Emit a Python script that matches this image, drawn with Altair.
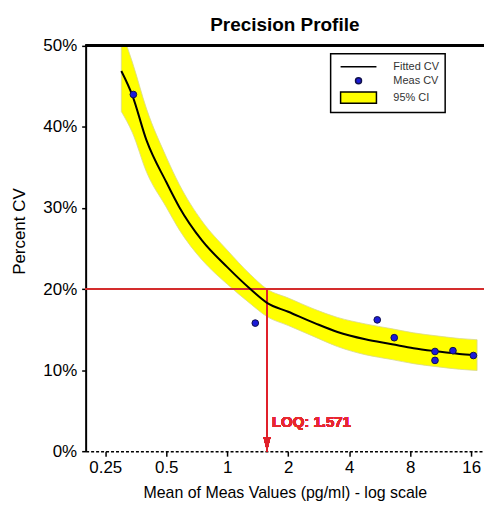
import altair as alt
import pandas as pd

# ---- data ----
fit_x = [0.30, 0.34, 0.40, 0.50, 0.58, 0.75, 1.00, 1.30, 1.571, 2.00, 2.70, 3.50, 4.80, 6.50, 8.30, 11.0, 14.0, 16.5]
fit_cv = [46.9, 43.9, 38.3, 33.2, 30.1, 26.0, 22.7, 20.0, 18.3, 17.2, 15.8, 14.7, 13.8, 13.2, 12.7, 12.3, 12.0, 11.85]

ci_x = [0.30, 0.34, 0.40, 0.50, 0.58, 0.75, 1.00, 1.30, 1.571, 2.00, 2.70, 3.50, 4.80, 6.50, 8.30, 11.0, 14.0, 17.1]
ci_lo = [41.9, 39.3, 34.4, 30.1, 27.3, 23.6, 20.6, 18.2, 16.6, 15.5, 14.1, 12.9, 11.9, 11.3, 10.8, 10.4, 10.1, 9.95]
ci_hi = [51.9, 48.0, 42.2, 36.3, 32.9, 28.4, 24.8, 21.8, 20.0, 18.9, 17.5, 16.5, 15.7, 15.1, 14.6, 14.2, 13.9, 13.75]

meas_x = [0.344, 1.375, 5.5, 6.67, 10.6, 10.6, 13.0, 16.4]
meas_cv = [44.0, 15.8, 16.2, 14.0, 12.3, 11.2, 12.4, 11.8]

x_ticks = [0.25, 0.5, 1, 2, 4, 8, 16]
y_ticks = [0, 10, 20, 30, 40, 50]
loq = 1.571
cv_limit = 20
legend_keys = ["Fitted CV", "Meas CV", "95% CI"]

fit_df = pd.DataFrame({"x": fit_x, "cv": fit_cv})
ci_df = pd.DataFrame({"x": ci_x, "lo": ci_lo, "hi": ci_hi})
meas_df = pd.DataFrame({"x": meas_x, "cv": meas_cv})

FONT = "Liberation Sans Narrow, Arial Narrow, Liberation Sans, Arial"

xscale = alt.Scale(type="log", base=2, domain=[0.2, 18.5], nice=False)
yscale = alt.Scale(domain=[0, 50], nice=False)

xaxis = alt.Axis(
    values=x_ticks, labelExpr="datum.value == 0.25 ? '0.25' : datum.value",
    title="Mean of Meas Values (pg/ml) - log scale",
    grid=False, domainColor="black", domainWidth=1.5, domainDash=[3, 2],
    tickColor="black", tickSize=5, tickWidth=1.5,
    labelFont=FONT, labelFontSize=17, labelColor="black", labelPadding=3,
    titleFont=FONT, titleFontSize=16, titleFontWeight="normal", titleColor="black",
    titlePadding=10, labelFlush=False,
)
yaxis = alt.Axis(
    values=y_ticks, labelExpr="datum.value + '%'", title="Percent CV",
    grid=False, domainColor="black", domainWidth=2,
    tickColor="black", tickSize=4, tickWidth=1.5,
    labelFont=FONT, labelFontSize=17, labelColor="black", labelPadding=5,
    titleFont=FONT, titleFontSize=17, titleFontWeight="normal", titleColor="black",
    titlePadding=14, titleY=186,
)


def X(field):
    return alt.X(field, type="quantitative", scale=xscale, axis=xaxis)


def Y(field):
    return alt.Y(field, type="quantitative", scale=yscale, axis=yaxis)


band = alt.Chart(ci_df).mark_area(
    color="#ffff00", stroke="#d8d890", strokeWidth=0.8, clip=True, interpolate="monotone"
).encode(x=X("x"), y=Y("lo"), y2="hi")

hline = alt.Chart(ci_df).mark_rule(color="#d42d2d", strokeWidth=2).encode(
    y=alt.datum(cv_limit, scale=yscale)
)

vline = alt.Chart(ci_df).mark_rule(color="#e0202a", strokeWidth=2).encode(
    x=alt.datum(loq), y=alt.datum(cv_limit), y2=alt.datum(0)
)

arrow = alt.Chart(ci_df).mark_point(
    shape="M0,0L-0.5,-2L0.5,-2Z", size=196, filled=True, color="#e0202a", opacity=1
).encode(x=alt.datum(loq), y=alt.datum(0))

loq_text = alt.Chart(ci_df).mark_text(
    text="LOQ: 1.571", color="#e8282f", font=FONT, fontSize=15, fontWeight="bold",
    align="left", baseline="alphabetic", dx=5
).encode(x=alt.datum(loq), y=alt.datum(3.0))

topline = alt.Chart(ci_df).mark_rule(color="black", strokeWidth=2).encode(
    y=alt.datum(50)
)

curve = alt.Chart(fit_df).mark_line(
    color="black", strokeWidth=2, interpolate="monotone", clip=True
).encode(x=X("x"), y=Y("cv"))

points = alt.Chart(meas_df).mark_point(
    filled=True, size=45, fill="#1b1bd8", stroke="#10104a", strokeWidth=1, opacity=1
).encode(x=X("x"), y=Y("cv"))

leg = alt.Legend(
    title=None, orient="none", legendX=246, legendY=8, padding=6,
    strokeColor="black", fillColor="white", cornerRadius=0,
    labelFont=FONT, labelFontSize=11, labelColor="#333333",
    symbolOffset=15, labelOffset=28, rowPadding=2,
    symbolStrokeWidth=1.5, symbolSize=144,
    labelExpr="datum.label + '" + "\u00a0" * 30 + "'",
)
legend_layer = alt.Chart(meas_df).transform_calculate(
    k="'Fitted CV'"
).transform_filter("false").mark_point(filled=True, size=144, strokeWidth=1.5, opacity=1).encode(
    x=X("x"), y=Y("cv"),
    fill=alt.Fill("k:N", scale=alt.Scale(domain=legend_keys, range=["black", "#1b1bd8", "#ffff00"]), legend=leg),
    stroke=alt.Stroke("k:N", scale=alt.Scale(domain=legend_keys, range=["black", "#10104a", "black"]), legend=leg),
    shape=alt.Shape("k:N", scale=alt.Scale(domain=legend_keys, range=[
        "M-3,0H3",
        "M-0.5,0A0.5,0.5 0 1,0 0.5,0A0.5,0.5 0 1,0 -0.5,0Z",
        "M-3,-0.95H3V0.95H-3Z",
    ]), legend=leg),
)

chart = alt.layer(
    band, hline, vline, arrow, curve, points, loq_text, topline, legend_layer
).properties(
    width=400, height=407,
    autosize=alt.AutoSizeParams(type="none"),
    padding={"left": 86, "top": 45, "right": 0, "bottom": 56},
    title=alt.TitleParams(
        "Precision Profile", font=FONT, fontSize=19, fontWeight="bold", color="black",
        anchor="middle", offset=2
    ),
).configure_view(stroke=None).configure_legend(strokeWidth=1.5)

chart.save("out.html", embed_options={"renderer": "svg", "actions": False})
